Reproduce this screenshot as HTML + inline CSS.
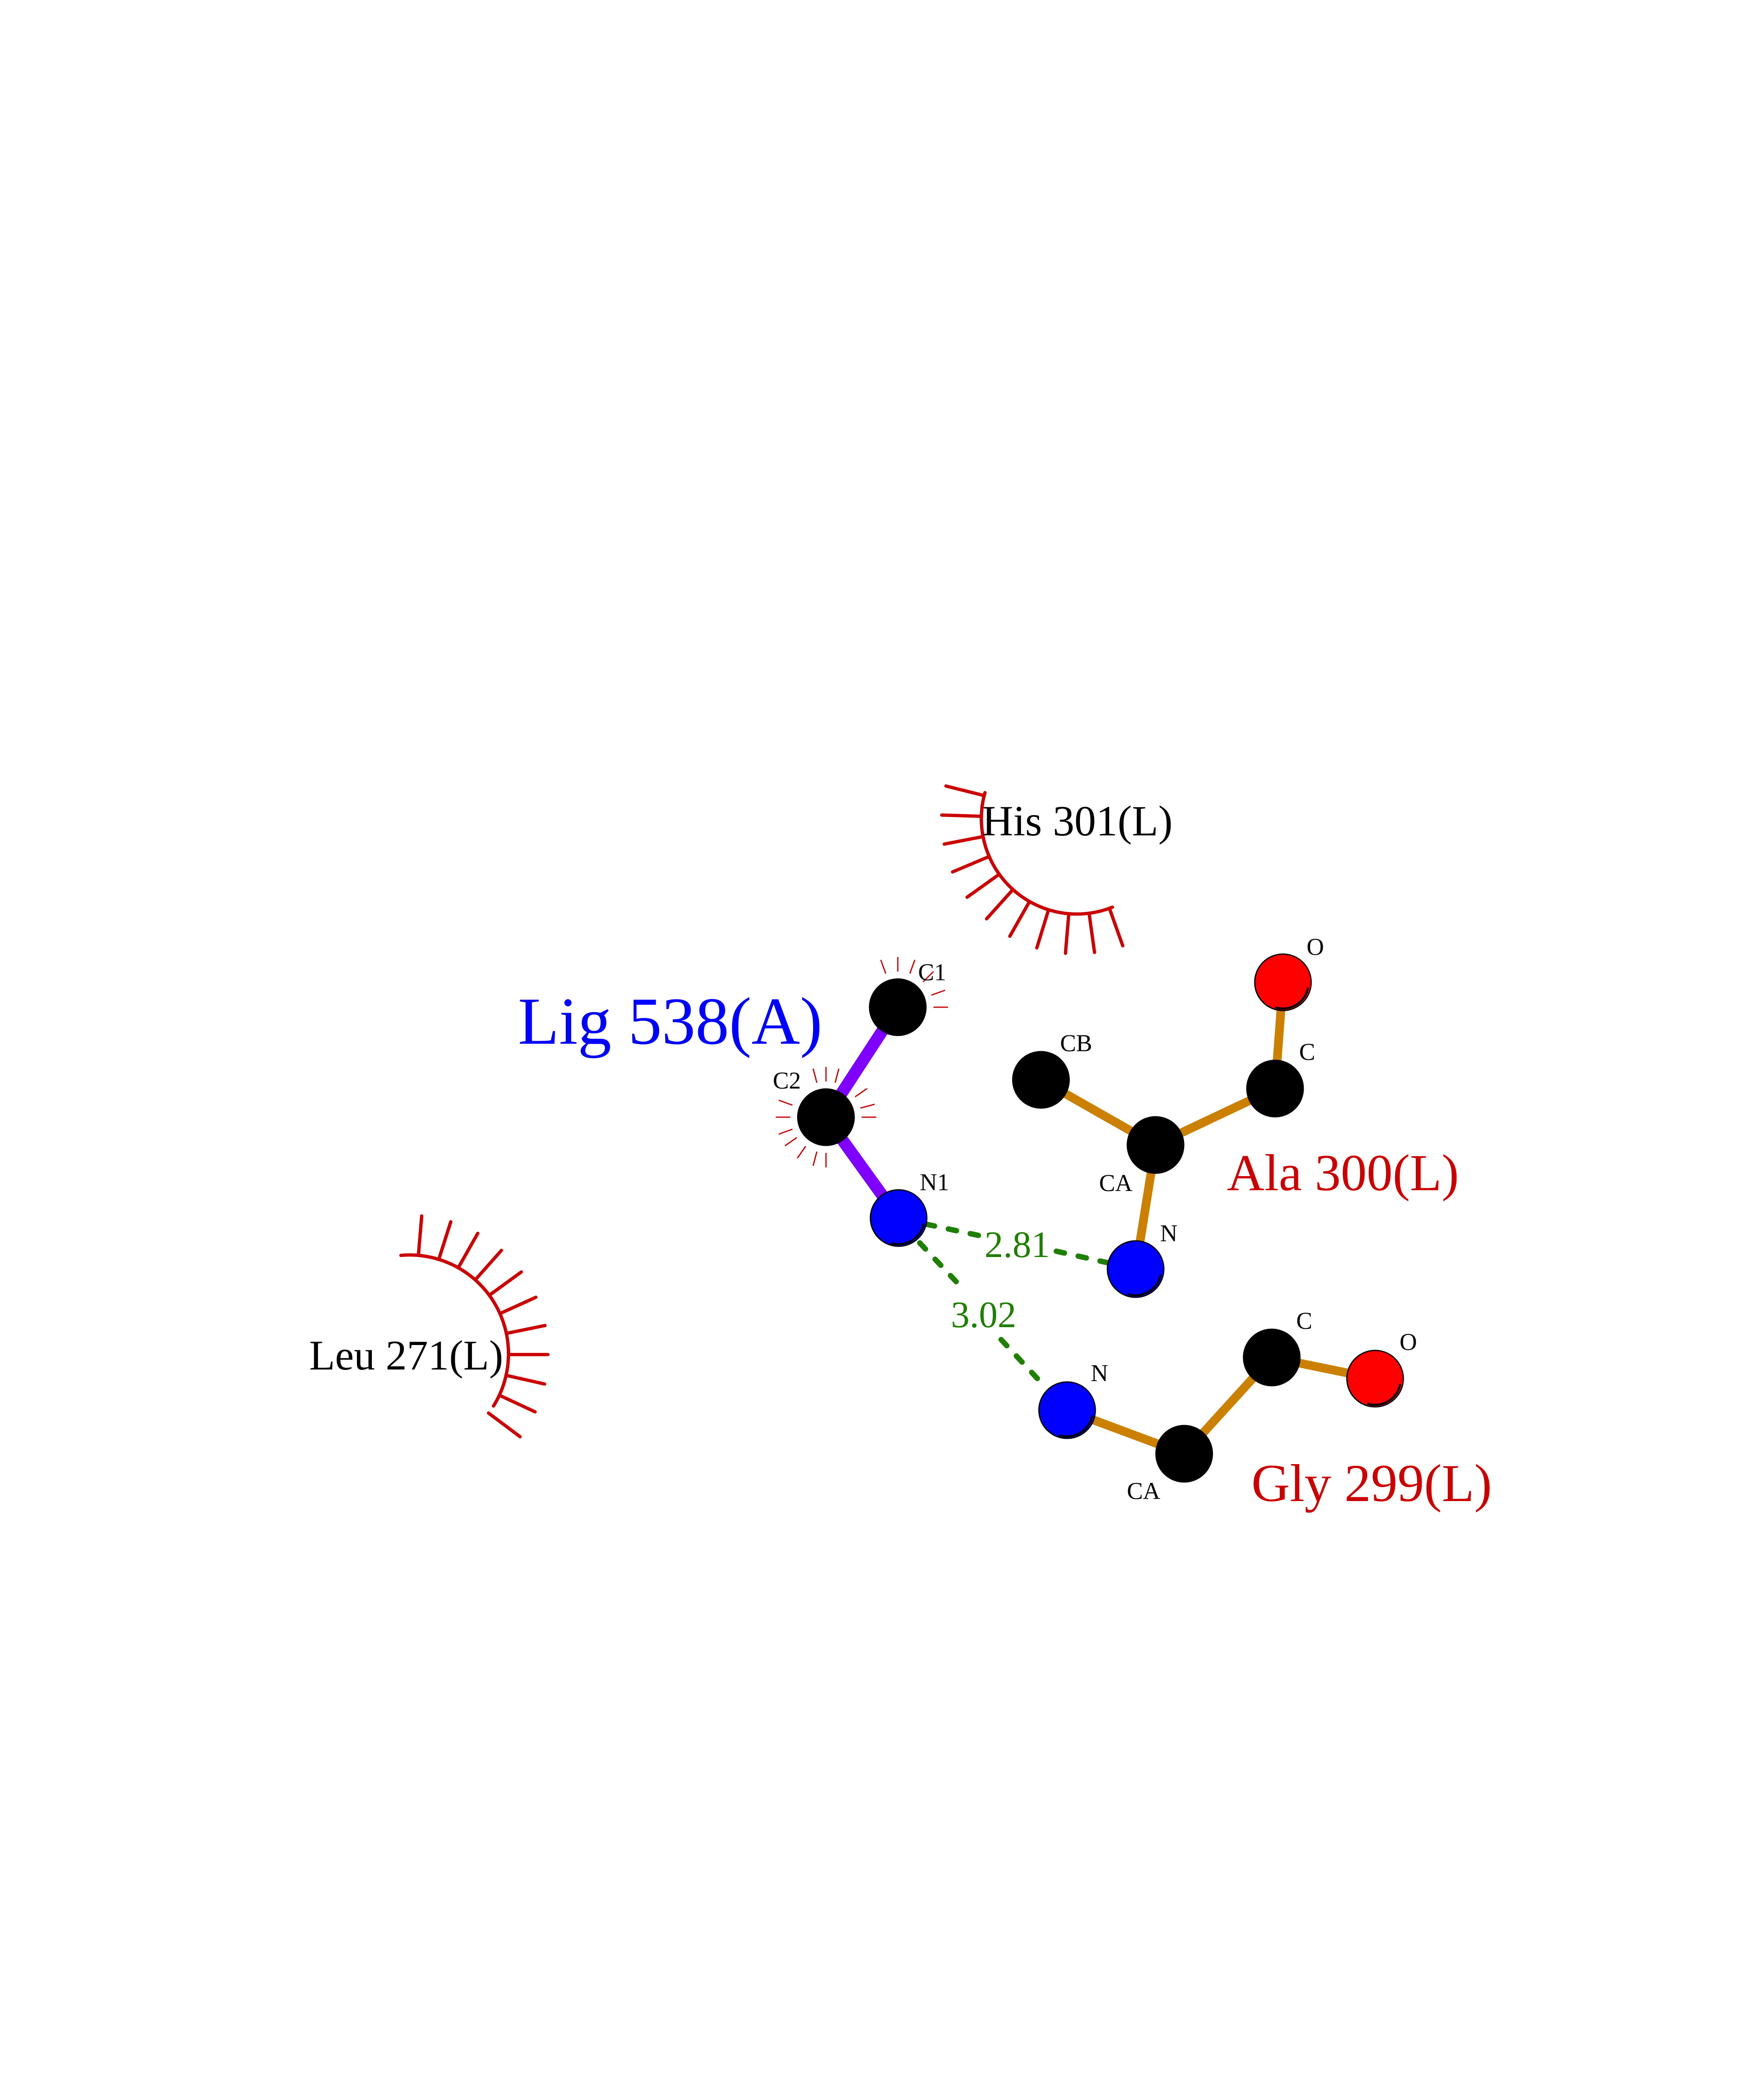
<!DOCTYPE html>
<html><head><meta charset="utf-8"><style>html,body{margin:0;padding:0;background:#fff;width:4250px;height:5500px;overflow:hidden}svg{display:block}</style></head>
<body>
<svg width="4250" height="5500" viewBox="0 0 4250 5500" xmlns="http://www.w3.org/2000/svg" font-family="Liberation Serif, serif">
<rect width="4250" height="5500" fill="#fff"/>
<g stroke="#cc0000" stroke-width="8" fill="none" stroke-linecap="round">
<path d="M966,3025 A238,238 0 0 1 1189,3388"/>
<line x1="1008" y1="3025" x2="1016" y2="2930"/>
<line x1="1057" y1="3035" x2="1086" y2="2944"/>
<line x1="1104" y1="3055" x2="1151" y2="2972"/>
<line x1="1145" y1="3084" x2="1208" y2="3013"/>
<line x1="1179" y1="3121" x2="1256" y2="3065"/>
<line x1="1205" y1="3165" x2="1291" y2="3126"/>
<line x1="1220" y1="3213" x2="1313" y2="3194"/>
<line x1="1225" y1="3264" x2="1320" y2="3264"/>
<line x1="1219" y1="3314" x2="1312" y2="3335"/>
<line x1="1203" y1="3362" x2="1289" y2="3402"/>
<line x1="1177" y1="3405" x2="1253" y2="3462"/>
</g>
<g stroke="#cc0000" stroke-width="8" fill="none" stroke-linecap="round">
<path d="M2373,1910 A230,230 0 0 0 2680,2186"/>
<line x1="2371" y1="1917" x2="2279" y2="1894"/>
<line x1="2364" y1="1967" x2="2269" y2="1964"/>
<line x1="2368" y1="2016" x2="2275" y2="2034"/>
<line x1="2383" y1="2064" x2="2295" y2="2101"/>
<line x1="2407" y1="2107" x2="2330" y2="2162"/>
<line x1="2440" y1="2144" x2="2377" y2="2214"/>
<line x1="2480" y1="2173" x2="2433" y2="2256"/>
<line x1="2526" y1="2193" x2="2498" y2="2284"/>
<line x1="2575" y1="2202" x2="2567" y2="2297"/>
<line x1="2624" y1="2201" x2="2637" y2="2295"/>
<line x1="2673" y1="2189" x2="2705" y2="2279"/>
</g>
<g stroke="#cc0000" stroke-width="3">
<line x1="2134" y1="2346" x2="2122" y2="2313"/>
<line x1="2163" y1="2341" x2="2163" y2="2306"/>
<line x1="2192" y1="2346" x2="2204" y2="2313"/>
<line x1="2224" y1="2366" x2="2249" y2="2341"/>
<line x1="2244" y1="2398" x2="2277" y2="2386"/>
<line x1="2249" y1="2427" x2="2284" y2="2427"/>
<line x1="1968" y1="2609" x2="1959" y2="2575"/>
<line x1="1990" y1="2606" x2="1990" y2="2571"/>
<line x1="2012" y1="2609" x2="2021" y2="2575"/>
<line x1="2060" y1="2643" x2="2089" y2="2623"/>
<line x1="2073" y1="2670" x2="2107" y2="2661"/>
<line x1="2076" y1="2692" x2="2111" y2="2692"/>
<line x1="1990" y1="2778" x2="1990" y2="2813"/>
<line x1="1968" y1="2775" x2="1959" y2="2809"/>
<line x1="1941" y1="2762" x2="1921" y2="2791"/>
<line x1="1920" y1="2741" x2="1891" y2="2761"/>
<line x1="1909" y1="2721" x2="1876" y2="2733"/>
<line x1="1904" y1="2692" x2="1869" y2="2692"/>
<line x1="1909" y1="2663" x2="1876" y2="2651"/>
</g>
<g stroke="#8000ff" stroke-width="29">
<line x1="2163" y1="2427" x2="1990" y2="2692"/>
<line x1="1990" y1="2692" x2="2165" y2="2935"/>
</g>
<g stroke="#cc8000" stroke-width="21">
<line x1="2508" y1="2602" x2="2784" y2="2759"/>
<line x1="2784" y1="2759" x2="3072" y2="2623"/>
<line x1="3072" y1="2623" x2="3091" y2="2367"/>
<line x1="2784" y1="2759" x2="2736" y2="3058"/>
<line x1="2571" y1="3398" x2="2853" y2="3503"/>
<line x1="2853" y1="3503" x2="3064" y2="3271"/>
<line x1="3064" y1="3271" x2="3313" y2="3322"/>
</g>
<g stroke="#1f7f00" stroke-width="13" stroke-linecap="round" stroke-dasharray="20,34">
<line x1="2232" y1="2950" x2="2358" y2="2977"/>
<line x1="2545" y1="3015" x2="2670" y2="3043"/>
<line x1="2216" y1="2995" x2="2324" y2="3110"/>
<line x1="2412" y1="3228" x2="2521" y2="3345"/>
</g>
<g stroke="#000" stroke-width="3">
<circle cx="2163" cy="2427" r="68" fill="#000"/>
<circle cx="1990" cy="2692" r="68" fill="#000"/>
<circle cx="2165" cy="2935" r="68" fill="#0000ff"/>
<circle cx="2508" cy="2602" r="68" fill="#000"/>
<circle cx="2784" cy="2759" r="68" fill="#000"/>
<circle cx="3072" cy="2623" r="68" fill="#000"/>
<circle cx="3091" cy="2367" r="68" fill="#ff0000"/>
<circle cx="2736" cy="3058" r="68" fill="#0000ff"/>
<circle cx="2571" cy="3398" r="68" fill="#0000ff"/>
<circle cx="2853" cy="3503" r="68" fill="#000"/>
<circle cx="3064" cy="3271" r="68" fill="#000"/>
<circle cx="3313" cy="3322" r="68" fill="#ff0000"/>
</g>
<g fill="none" stroke="#000" stroke-width="5" stroke-linecap="round">
<path d="M2148,2996 A62,62 0 0 0 2225,2950"/>
<path d="M2719,3119 A62,62 0 0 0 2796,3073"/>
<path d="M2554,3459 A62,62 0 0 0 2631,3413"/>
<path d="M3074,2428 A62,62 0 0 0 3151,2382"/>
<path d="M3296,3383 A62,62 0 0 0 3373,3337"/>
</g>
<g font-size="58" fill="#000">
<text x="2212" y="2362">C1</text>
<text x="1862" y="2623">C2</text>
<text x="2216" y="2868">N1</text>
<text x="2554" y="2533">CB</text>
<text x="3130" y="2554">C</text>
<text x="3148" y="2301">O</text>
<text x="2648" y="2870">CA</text>
<text x="2795" y="2991">N</text>
<text x="2628" y="3328">N</text>
<text x="3123" y="3202">C</text>
<text x="3372" y="3253">O</text>
<text x="2715" y="3612">CA</text>
</g>
<g font-size="90" fill="#1f7f00">
<text x="2372" y="3029">2.81</text>
<text x="2291" y="3198">3.02</text>
</g>
<text x="1248" y="2515" font-size="162" fill="#0000ff">Lig 538(A)</text>
<text x="2956" y="2868" font-size="125" fill="#cc0000">Ala 300(L)</text>
<text x="3015" y="3617" font-size="128" fill="#cc0000">Gly 299(L)</text>
<text x="2366" y="2013" font-size="104" fill="#000">His 301(L)</text>
<text x="745" y="3300" font-size="102" fill="#000">Leu 271(L)</text>
<circle cx="208" cy="5150" r="4" fill="#000"/>
</svg>
</body></html>
